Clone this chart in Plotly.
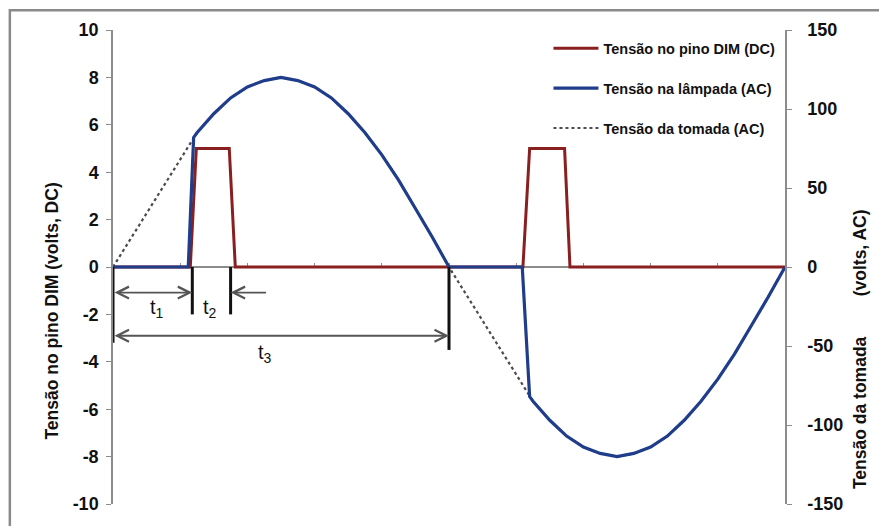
import plotly.graph_objects as go

# Time axis in arbitrary units (one mains cycle = 0..10)
dim_t = [0, 1.15, 1.24, 1.73, 1.82, 6.10, 6.20, 6.72, 6.80, 10]
dim_v = [0, 0, 5, 5, 0, 0, 5, 5, 0, 0]  # volts DC (left axis)

# Lamp voltage (volts AC, right axis): off until triggered, then follows the mains
lamp_t = [0, 1.12, 1.2, 1.25, 1.5, 1.75, 2.0, 2.25, 2.5, 2.75, 3.0, 3.25, 3.5,
          3.75, 4.0, 4.25, 4.5, 4.75, 5.0,
          6.09, 6.2, 6.25, 6.5, 6.75, 7.0, 7.25, 7.5, 7.75, 8.0, 8.25, 8.5,
          8.75, 9.0, 9.25, 9.5, 9.75, 10.0]
lamp_v = [0, 0, 82, 85, 97, 107, 114, 118, 120, 118, 114, 107, 97,
          85, 71, 55, 37, 19, 0,
          0, -82, -85, -97, -107, -114, -118, -120, -118, -114, -107, -97,
          -85, -71, -55, -37, -19, 0]

# Outlet voltage (volts AC, right axis)
outlet_t = [0, 1.2, 1.25, 1.5, 1.75, 2.0, 2.25, 2.5, 2.75, 3.0, 3.25, 3.5,
            3.75, 4.0, 4.25, 4.5, 4.75, 5.0,
            6.2, 6.25, 6.5, 6.75, 7.0, 7.25, 7.5, 7.75, 8.0, 8.25, 8.5,
            8.75, 9.0, 9.25, 9.5, 9.75, 10.0]
outlet_v = [0, 82, 85, 97, 107, 114, 118, 120, 118, 114, 107, 97,
            85, 71, 55, 37, 19, 0,
            -82, -85, -97, -107, -114, -118, -120, -118, -114, -107, -97,
            -85, -71, -55, -37, -19, 0]

left_ticks = [-10, -8, -6, -4, -2, 0, 2, 4, 6, 8, 10]
left_labels = ["-10", "-8", "-6", "-4", "-2", "0", "2", "4", "6", "8", "10"]
right_ticks = [-150, -100, -50, 0, 50, 100, 150]
right_labels = ["-150", "-100", "-50", "0", "50", "100", "150"]
x_ticks = [1, 2, 3, 4, 5, 6, 7, 8, 9]

# Timing markers (t1, t2, t3)
t_start = 0.0
t1_end = 1.18
t2_end = 1.75
t3_end = 5.0
t2_tail = 2.3
row_t12 = -1.08
row_t3 = -2.9
mark_depth = [-3.2, -2.0, -2.0, -3.5]
mark_x = [t_start, t1_end, t2_end, t3_end]
label_text = ["t<sub>1</sub>", "t<sub>2</sub>", "t<sub>3</sub>"]
label_x = [0.66, 1.44, 2.26]
label_y = [-1.75, -1.75, -3.63]

RED = "#8a1f1f"
BLUE = "#1f3d8a"
AXIS = "#8c8c8c"
FONT = "Liberation Sans"

fig = go.Figure()
fig.add_trace(go.Scatter(x=dim_t, y=dim_v, mode="lines", name="Tensão no pino DIM (DC)",
                         line=dict(color=RED, width=3), legendrank=1,
                         legendgroup="a", yaxis="y"))
fig.add_trace(go.Scatter(x=outlet_t, y=outlet_v, mode="lines", name="Tensão da tomada (AC)",
                         line=dict(color="#4a4a4a", width=2.2, dash="dot"), legendrank=3,
                         legendgroup="c", yaxis="y2"))
fig.add_trace(go.Scatter(x=lamp_t, y=lamp_v, mode="lines", name="Tensão na lâmpada (AC)",
                         line=dict(color=BLUE, width=3.2), legendrank=2,
                         legendgroup="b", yaxis="y2"))

shapes = []
for xm, yd in zip(mark_x, mark_depth):
    shapes.append(dict(type="line", xref="x", yref="y", x0=xm, x1=xm, y0=0, y1=yd,
                       line=dict(color="#111111", width=3)))
# outer frame
shapes.append(dict(type="rect", xref="paper", yref="paper", x0=-0.1535, x1=1.3,
                   y0=-0.2, y1=1.0417, line=dict(color="#8a8a8a", width=2.5),
                   fillcolor="rgba(0,0,0,0)", layer="below"))

annotations = []
arrow_style = dict(xref="x", yref="y", axref="x", ayref="y", text="", showarrow=True,
                   arrowcolor="#555555", arrowwidth=1.8, arrowhead=5, startarrowhead=5,
                   arrowsize=1.3, startarrowsize=1.3, standoff=0, startstandoff=0)
annotations.append(dict(x=t1_end, y=row_t12, ax=t_start, ay=row_t12,
                        arrowside="end+start", **arrow_style))
annotations.append(dict(x=t2_end, y=row_t12, ax=t2_tail, ay=row_t12,
                        arrowside="end", **arrow_style))
annotations.append(dict(x=t3_end, y=row_t3, ax=t_start, ay=row_t3,
                        arrowside="end+start", **arrow_style))
for txt, lx, ly in zip(label_text, label_x, label_y):
    annotations.append(dict(x=lx, y=ly, xref="x", yref="y", text=txt, showarrow=False,
                            xanchor="center", yanchor="middle",
                            font=dict(family=FONT, size=20, color="#111111")))
# axis titles
title_font = dict(family=FONT, size=17.5, color="#111111", weight="bold")
annotations.append(dict(x=-0.0908, y=0.408, xref="paper", yref="paper",
                        xanchor="center", yanchor="middle",
                        text="Tensão no pino DIM (volts, DC)", textangle=-90, showarrow=False,
                        font=title_font))
annotations.append(dict(x=1.1116, y=0.194, xref="paper", yref="paper",
                        xanchor="center", yanchor="middle",
                        text="Tensão da tomada", textangle=-90, showarrow=False,
                        font=title_font))
annotations.append(dict(x=1.1116, y=0.531, xref="paper", yref="paper",
                        xanchor="center", yanchor="middle",
                        text="(volts, AC)", textangle=-90, showarrow=False,
                        font=title_font))

tickfont = dict(family=FONT, size=18, color="#111111", weight="bold")

fig.update_layout(
    width=879, height=526,
    margin=dict(l=113, r=94, t=30, b=16),
    paper_bgcolor="white", plot_bgcolor="white",
    showlegend=True,
    legend=dict(x=0.648, y=0.995, xanchor="left", yanchor="top",
                bgcolor="rgba(0,0,0,0)", tracegroupgap=18, itemwidth=45,
                font=dict(family=FONT, size=14.5, color="#111111", weight="bold")),
    xaxis=dict(range=[0, 10], anchor="free", position=0.5, showgrid=False,
               zeroline=False, showline=True, linecolor=AXIS, linewidth=1.5,
               ticks="inside", ticklen=3, tickcolor=AXIS, tickvals=x_ticks,
               showticklabels=False, layer="below traces"),
    yaxis=dict(range=[-10, 10], tickvals=left_ticks, ticktext=left_labels,
               showgrid=False, zeroline=False,
               showline=True, linecolor=AXIS, linewidth=1.5, ticks="outside",
               ticklen=5, tickcolor=AXIS, tickfont=tickfont, ticklabelstandoff=4),
    yaxis2=dict(range=[-150, 150], tickvals=right_ticks, ticktext=right_labels,
                overlaying="y", side="right",
                showgrid=False, zeroline=False, showline=True, linecolor=AXIS,
                linewidth=1.5, ticks="outside", ticklen=5, tickcolor=AXIS,
                tickfont=tickfont, ticklabelstandoff=12),
    shapes=shapes,
    annotations=annotations,
)

fig.write_html("out.html")
